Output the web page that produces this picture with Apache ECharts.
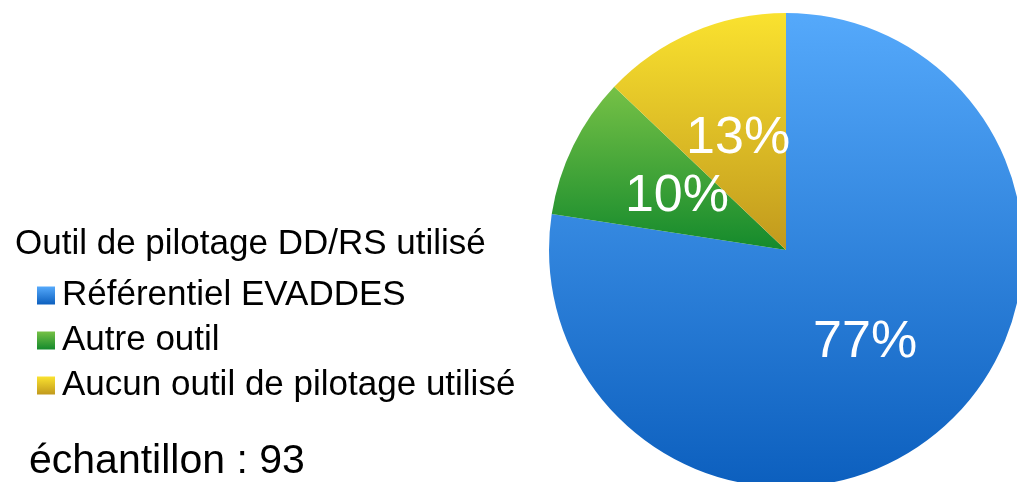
<!DOCTYPE html>
<html>
<head>
<meta charset="utf-8">
<script src="https://cdn.jsdelivr.net/npm/echarts@6/dist/echarts.min.js"></script>
<style>
    html, body { margin: 0; padding: 0; background: #fff; }
    #chart { width: 1017px; height: 482px; }
</style>
</head>
<body>
<div id="chart"></div>
<script>
// données : répartition des 93 répondants
var categories = ['Référentiel EVADDES', 'Autre outil', 'Aucun outil de pilotage utilisé'];
var counts = [72, 9, 12];
var legendTitle = 'Outil de pilotage DD/RS utilisé';
var sampleText = 'échantillon : 93';

// dégradés haut -> bas pour chaque part
var colorsTop = ['#55a9fb', '#76c146', '#fae22f'];
var colorsBottom = ['#0c5fbe', '#148a2c', '#c1991d'];

function grad(i){
    return new echarts.graphic.LinearGradient(0, 0, 0, 1, [
        { offset: 0, color: colorsTop[i] },
        { offset: 1, color: colorsBottom[i] }
    ]);
}

var data = [];
for(var i = 0; i < categories.length; i++){
    data.push({
        name: categories[i],
        value: counts[i],
        itemStyle: { color: grad(i) }
    });
}

var myChart = echarts.init(document.getElementById('chart'));
var font = '"Liberation Sans", Arial, sans-serif';
var option = {
    animation: false,
    title: [
        {
            text: legendTitle,
            left: 10,
            top: 222,
            textStyle: {
                fontFamily: font,
                fontWeight: 'normal',
                fontSize: 35,
                color: '#000'
            }
        },
        {
            text: sampleText,
            left: 24,
            top: 436,
            textStyle: {
                fontFamily: font,
                fontWeight: 'normal',
                fontSize: 41,
                color: '#000'
            }
        }
    ],
    legend: {
        orient: 'vertical',
        left: 32,
        top: 273,
        icon: 'rect',
        itemWidth: 18,
        itemHeight: 18,
        itemGap: 10,
        data: categories,
        textStyle: {
            fontFamily: font,
            fontSize: 35,
            lineHeight: 34,
            padding: [0, 0, 0, 2],
            color: '#000'
        }
    },
    series: [
        {
            type: 'pie',
            center: [786, 250],
            radius: 237,
            startAngle: 90,
            clockwise: true,
            percentPrecision: 0,
            label: {
                show: true,
                position: 'inside',
                formatter: '{d}%',
                color: '#fff',
                fontFamily: font,
                fontSize: 52
            },
            labelLine: { show: false },
            emphasis: { disabled: true },
            data: data
        }
    ]
};
myChart.setOption(option);
</script>
</body>
</html>
